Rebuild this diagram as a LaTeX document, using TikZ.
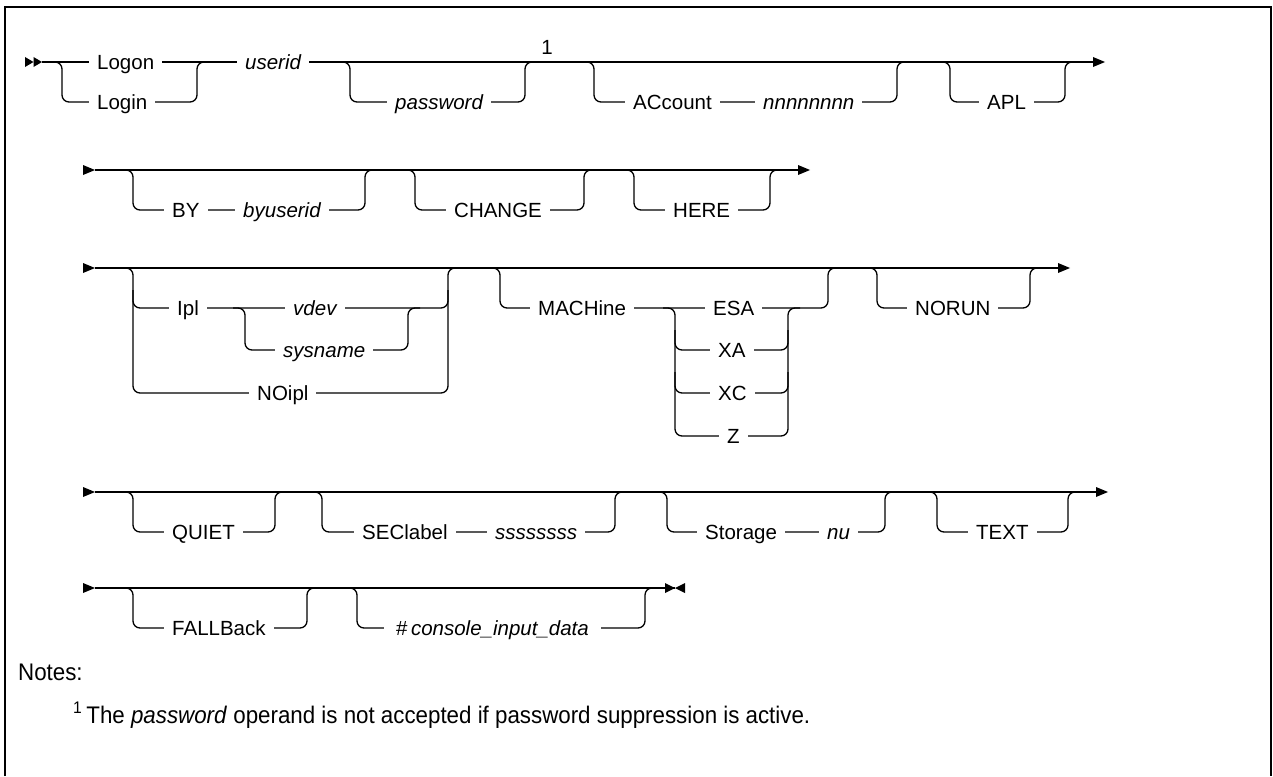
\documentclass[tikz,border=0pt]{standalone}
\usepackage{fontspec}
\setmainfont{Liberation Sans}
\newfontfamily\notefam[FakeStretch=0.93]{Liberation Sans}
\newcommand{\railfont}{\fontsize{20.5}{24}\selectfont}
\newcommand{\notefont}{\notefam\fontsize{24}{28}\selectfont}
% optional branch: main y, low y, fork x, merge x
\newcommand{\optrail}[4]{\draw[rail] (#3-12,#1) -- (#3,#1) -- (#3,#2) -- (#4,#2) -- (#4,#1) -- (#4+12,#1);}
% extra alternative inside a stack: top y, low y, fork x, merge x
\newcommand{\altrail}[4]{\draw[rail] (#3,#1) -- (#3,#2) -- (#4,#2) -- (#4,#1);}
\begin{document}
\begin{tikzpicture}[x=1pt,y=-1pt,
  rail/.style={line width=1.3pt, rounded corners=7pt},
  lbl/.style={font=\railfont, fill=white, inner xsep=8pt, inner ysep=1pt, anchor=base west, yshift=-7.3pt, xshift=-8pt},
  tip/.style={fill=black, draw=none}]
\useasboundingbox (0,0) rectangle (1273,776);
\fill[white] (0,0) rectangle (1273,776);
% frame
\draw[line width=2pt] (5,776) -- (5,7) -- (1271,7) -- (1271,776);

% ---------- row 1 ----------
\fill[tip] (25,57) -- (33.5,62) -- (25,67) -- cycle;
\fill[tip] (33.5,57) -- (42,62) -- (33.5,67) -- cycle;
\coordinate (r1s) at (42,62);
\coordinate (r1e) at (1093,62);
\draw[rail] (r1s) -- (r1e);
\fill[tip] (1093,57) -- (1105,62) -- (1093,67) -- cycle;
\optrail{62}{102}{62}{197}
\optrail{62}{102}{350}{525}
\optrail{62}{102}{594}{897}
\optrail{62}{102}{950}{1065}
\node[lbl] (logon) at (97,62) {Logon};
\node[lbl] (login) at (97,102) {Login};
\node[lbl] (userid) at (245,62) {\itshape userid};
\node[lbl] (password) at (395,102) {\itshape password};
\node[font=\railfont, inner sep=0pt] (n1) at (547,47) {1};
\node[lbl] (account) at (633,102) {ACcount};
\node[lbl] (nnn) at (763,102) {\itshape nnnnnnnn};
\node[lbl] (apl) at (987,102) {APL};

% ---------- row 2 ----------
\fill[tip] (83,165) -- (95,170) -- (83,175) -- cycle;
\coordinate (r2s) at (95,170);
\coordinate (r2e) at (798,170);
\draw[rail] (r2s) -- (r2e);
\fill[tip] (798,165) -- (810,170) -- (798,175) -- cycle;
\optrail{170}{210}{133}{365}
\optrail{170}{210}{415}{584}
\optrail{170}{210}{634}{770}
\node[lbl] (by) at (172,210) {BY};
\node[lbl] (byuserid) at (243,210) {\itshape byuserid};
\node[lbl] (change) at (454,210) {CHANGE};
\node[lbl] (here) at (673,210) {HERE};

% ---------- row 3 ----------
\fill[tip] (83,263) -- (95,268) -- (83,273) -- cycle;
\coordinate (r3s) at (95,268);
\coordinate (r3e) at (1058,268);
\draw[rail] (r3s) -- (r3e);
\fill[tip] (1058,263) -- (1070,268) -- (1058,273) -- cycle;
% Ipl / NOipl
\optrail{268}{393}{133}{448}
\altrail{290}{308}{133}{448}
\draw[rail] (233,308) -- (245,308) -- (245,350) -- (408,350) -- (408,308) -- (420,308);
\node[lbl] (ipl) at (177,308) {Ipl};
\node[lbl] (vdev) at (293,308) {\itshape vdev};
\node[lbl] (sysname) at (283,350) {\itshape sysname};
\node[lbl] (noipl) at (257,393) {NOipl};
% MACHine
\optrail{268}{308}{500}{828}
\draw[rail] (663,308) -- (675,308) -- (675,436) -- (788,436) -- (788,308) -- (800,308);
\altrail{330}{350}{675}{788}
\altrail{372}{393}{675}{788}
\node[lbl] (machine) at (538,308) {MACHine};
\node[lbl] (esa) at (713,308) {ESA};
\node[lbl] (xa) at (718,350) {XA};
\node[lbl] (xc) at (718,393) {XC};
\node[lbl] (z) at (727,436) {Z};
% NORUN
\optrail{268}{308}{877}{1030}
\node[lbl] (norun) at (915,308) {NORUN};

% ---------- row 4 ----------
\fill[tip] (83,487) -- (95,492) -- (83,497) -- cycle;
\coordinate (r4s) at (95,492);
\coordinate (r4e) at (1096,492);
\draw[rail] (r4s) -- (r4e);
\fill[tip] (1096,487) -- (1108,492) -- (1096,497) -- cycle;
\optrail{492}{532}{133}{275}
\optrail{492}{532}{322}{615}
\optrail{492}{532}{667}{885}
\optrail{492}{532}{937}{1068}
\node[lbl] (quiet) at (172,532) {QUIET};
\node[lbl] (seclabel) at (362,532) {SEClabel};
\node[lbl] (sss) at (495,532) {\itshape ssssssss};
\node[lbl] (storage) at (705,532) {Storage};
\node[lbl] (nu) at (827,532) {\itshape nu};
\node[lbl] (text) at (976,532) {TEXT};

% ---------- row 5 ----------
\fill[tip] (83,583) -- (95,588) -- (83,593) -- cycle;
\coordinate (r5s) at (95,588);
\coordinate (r5e) at (675,588);
\draw[rail] (r5s) -- (r5e);
\fill[tip] (665,583) -- (675,588) -- (665,593) -- cycle;
\fill[tip] (685,583) -- (675,588) -- (685,593) -- cycle;
\optrail{588}{628}{133}{307}
\optrail{588}{628}{357}{645}
\node[lbl] (fallback) at (172,628) {FALLBack};
\node[lbl, inner xsep=12pt, xshift=-4pt] (console) at (396,628) {\#\,\itshape console\_input\_data};

% ---------- notes ----------
\node[font=\notefont, anchor=base west, inner sep=0pt] (notes) at (18,680) {Notes:};
\node[font=\notefont, anchor=base west, inner sep=0pt] (fn) at (73,723) {\textsuperscript{1}\,The \textit{password} operand is not accepted if password suppression is active.};
\end{tikzpicture}
\end{document}
